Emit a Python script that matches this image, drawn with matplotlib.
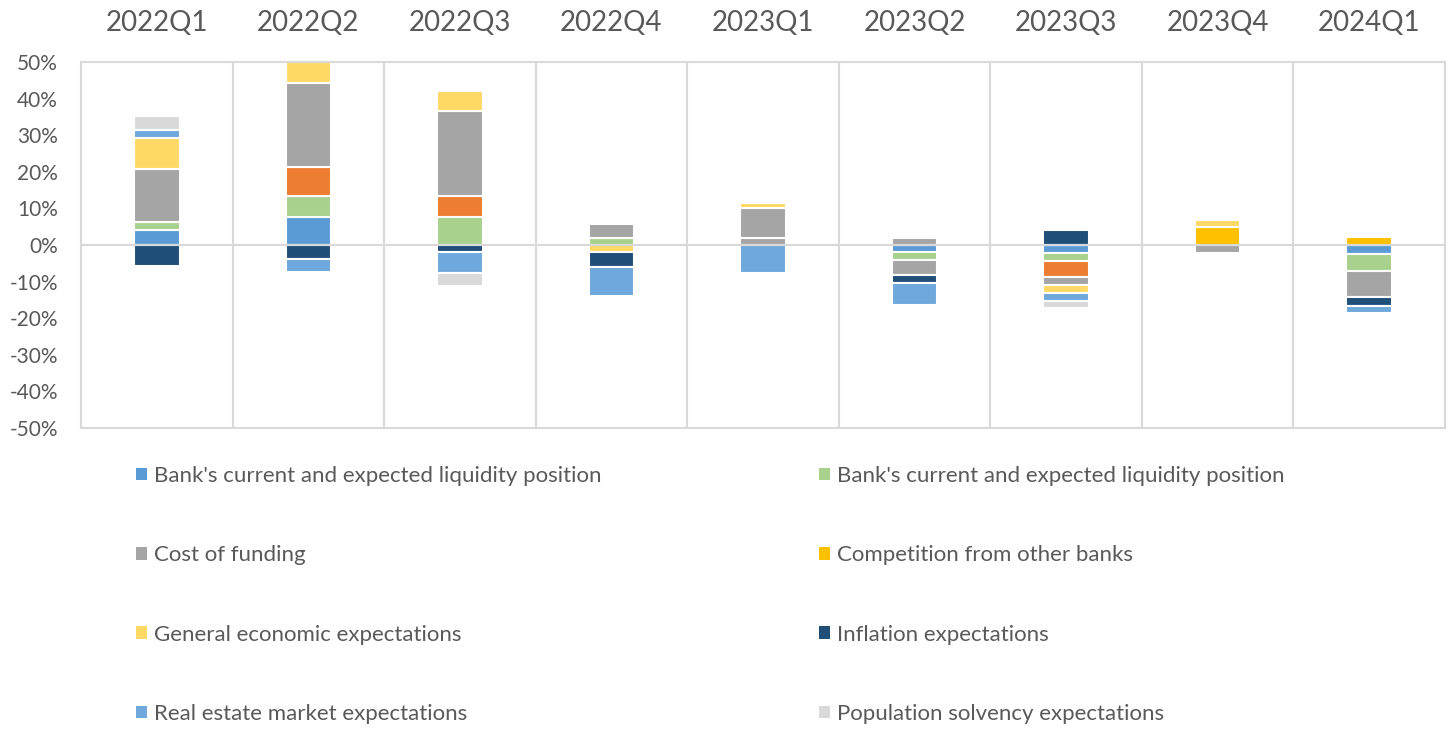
import matplotlib
matplotlib.use("Agg")
import matplotlib.pyplot as plt
import matplotlib.patches as patches
import numpy as np

plt.rcParams['font.family'] = ['Lato', 'DejaVu Sans']

quarters = ['2022Q1', '2022Q2', '2022Q3', '2022Q4', '2023Q1', '2023Q2', '2023Q3', '2023Q4', '2024Q1']

# values in %, stacked in this order (positives up, negatives down)
liquidity_a = [4.2, 7.7, 0, 0, 0, -2.0, -2.2, 0, -2.4]
liquidity_b = [2.1, 5.7, 7.7, 2.0, 0, -2.1, -2.1, 0, -4.7]
other_orange = [0, 7.8, 5.7, 0, 0, 0, -4.4, 0, 0]
other_gray = [0, 0, 0, 0, 2.0, 1.8, 0, 0, 0]
cost_funding = [14.6, 23.0, 23.2, 3.7, 8.0, -4.2, -2.1, -2.1, -7.2]
competition = [0, 0, 0, 0, 0, 0, 0, 4.8, 2.1]
economic = [8.3, 7.0, 5.5, -2.0, 1.6, 0, -2.2, 2.0, 0]
inflation = [-5.8, -3.8, -1.9, -4.0, 0, -2.1, 4.1, 0, -2.4]
real_estate = [2.1, -3.6, -5.7, -7.8, -7.7, -6.0, -2.2, 0, -2.0]
solvency = [4.0, 0, -3.6, 0, 0, 0, -1.9, 0, 0]

series = [
    (liquidity_a, "#5B9BD5", "Bank's current and expected liquidity position"),
    (liquidity_b, "#A9D18E", "Bank's current and expected liquidity position"),
    (other_orange, "#ED7D31", None),
    (other_gray, "#A5A5A5", None),
    (cost_funding, "#A5A5A5", "Cost of funding"),
    (competition, "#FFC000", "Competition from other banks"),
    (economic, "#FFD966", "General economic expectations"),
    (inflation, "#1F4E79", "Inflation expectations"),
    (real_estate, "#6FA8DC", "Real estate market expectations"),
    (solvency, "#D9D9D9", "Population solvency expectations"),
]

W, H = 1452, 729
fig = plt.figure(figsize=(W / 100, H / 100), dpi=100)
ax = fig.add_axes([81 / W, 1 - 428 / H, (1445 - 81) / W, (428 - 62) / H])

grid_c = "#D9D9D9"
text_c = "#595959"

x = np.arange(len(quarters))
pos_base = np.zeros(len(quarters))
neg_base = np.zeros(len(quarters))
handles = []
for vals, color, label in series:
    v = np.array(vals, dtype=float)
    for i in range(len(v)):
        if v[i] == 0:
            continue
        if v[i] > 0:
            b = pos_base[i]
            pos_base[i] += v[i]
        else:
            b = neg_base[i]
            neg_base[i] += v[i]
        ax.bar(x[i], v[i], bottom=b, width=0.30, color=color,
               edgecolor='white', linewidth=1.5, zorder=2)
    if label is not None:
        handles.append(patches.Patch(facecolor=color, label=label))

ax.set_xlim(-0.5, len(quarters) - 0.5)
ax.set_ylim(-50, 50)

# vertical separators between categories and zero line
for b in np.arange(0.5, len(quarters) - 0.5, 1):
    ax.axvline(b, color=grid_c, linewidth=1.5, zorder=1)
ax.axhline(0, color=grid_c, linewidth=1.5, zorder=3)

for s in ax.spines.values():
    s.set_color(grid_c)
    s.set_linewidth(1.5)

ax.set_yticks(np.arange(-50, 51, 10))
ax.set_yticklabels([f"{t}%" for t in range(-50, 51, 10)])
ax.tick_params(axis='y', length=0, pad=16.5, labelsize=15, labelcolor=text_c)

ax.xaxis.tick_top()
ax.set_xticks(x)
ax.set_xticklabels(quarters)
ax.tick_params(axis='x', length=0, pad=19, labelsize=20, labelcolor=text_c)

# legend: two columns, filled row by row like the original
order = [0, 2, 4, 6, 1, 3, 5, 7]
leg = fig.legend(handles=[handles[i] for i in order], loc='upper left',
                 bbox_to_anchor=(116 / W, 1 - 446 / H), ncol=2, frameon=False,
                 fontsize=16, handlelength=0.5, handleheight=0.5, handletextpad=0.3,
                 labelspacing=2.67, columnspacing=9.8, labelcolor=text_c)

fig.savefig("out.png", dpi=100)
